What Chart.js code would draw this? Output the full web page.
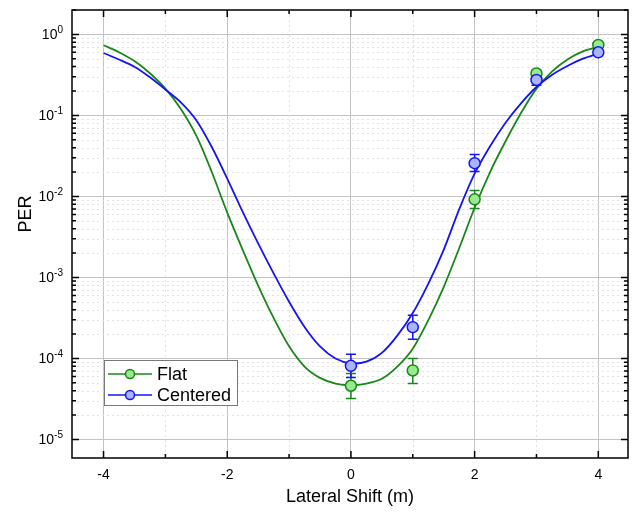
<!DOCTYPE html>
<html>
<head>
<meta charset="utf-8">
<script src="https://cdn.jsdelivr.net/npm/chart.js@4/dist/chart.umd.min.js"></script>
<style>
  html, body { margin: 0; padding: 0; background: #fff; }
  #wrap { width: 635px; height: 515px; }
</style>
</head>
<body>
<div id="wrap"><canvas id="per"></canvas></div>
<script>
// ── Data ─────────────────────────────────────────────────────────

// fitted curves, read every 0.25 m along the lateral shift
const fitX = [-4, -3.75, -3.5, -3.25, -3, -2.75, -2.5, -2.25, -2, -1.75, -1.5, -1.25, -1, -0.75, -0.5, -0.25,
              0, 0.25, 0.5, 0.75, 1, 1.25, 1.5, 1.75, 2, 2.25, 2.5, 2.75, 3, 3.25, 3.5, 3.75, 4];
const flatFit = [0.735, 0.603, 0.468, 0.331, 0.214, 0.120, 0.0562, 0.0200, 6.31e-3, 2.19e-3, 7.94e-4, 3.16e-4, 1.41e-4, 7.94e-5, 5.75e-5, 4.90e-5,
                 4.68e-5, 4.90e-5, 5.62e-5, 7.94e-5, 1.32e-4, 2.95e-4, 7.59e-4, 2.29e-3, 7.24e-3, 0.0200, 0.0479, 0.107, 0.214, 0.347, 0.490, 0.617, 0.700];
const centeredFit = [0.589, 0.490, 0.398, 0.295, 0.209, 0.145, 0.0871, 0.0407, 0.0166, 6.46e-3, 2.63e-3, 1.12e-3, 5.01e-4, 2.45e-4, 1.41e-4, 1.0e-4,
                     8.71e-5, 9.12e-5, 1.17e-4, 1.91e-4, 3.63e-4, 8.32e-4, 2.19e-3, 6.92e-3, 0.0191, 0.0417, 0.0813, 0.141, 0.224, 0.316, 0.407, 0.501, 0.582];

// measured points with error bars
const measX = [0, 1, 2, 3, 4];
const flatMeas = [4.6e-5, 7.1e-5, 9.2e-3, 0.33, 0.74];
const flatLow = [3.2e-5, 4.9e-5, 7.1e-3, 0.30, 0.70];
const flatHigh = [6.5e-5, 1.0e-4, 0.0118, 0.36, 0.79];
const centeredMeas = [8.1e-5, 2.43e-4, 0.0257, 0.274, 0.60];
const centeredLow = [5.8e-5, 1.73e-4, 0.0203, 0.235, 0.57];
const centeredHigh = [1.13e-4, 3.4e-4, 0.033, 0.31, 0.63];

// axes
const xTicks = [-4, -2, 0, 2, 4];
const xMinorTicks = [-3, -1, 1, 3];
const yTicks = [1e-5, 1e-4, 1e-3, 1e-2, 1e-1, 1];

const seriesNames = ['Flat', 'Centered'];

// ── Styling ──────────────────────────────────────────────────────

const FONT = '"Liberation Sans", Arial, sans-serif';
const GREEN = 'rgb(25, 135, 25)';
const GREEN_FILL = 'rgb(150, 235, 140)';
const BLUE = 'rgb(20, 20, 245)';
const BLUE_FILL = 'rgb(170, 180, 255)';

const toXY = (xs, ys) => xs.map((x, i) => ({ x, y: ys[i] }));

// ── Plugins: minor grid, error bars, frame + inward ticks, legend ─

const minorGridPlugin = {
    id: 'minorGrid',
    beforeDatasetsDraw(chart) {
        const { ctx, chartArea: a, scales: { x, y } } = chart;
        ctx.save();
        ctx.strokeStyle = 'rgb(226, 226, 226)';
        ctx.lineWidth = 1;
        ctx.setLineDash([2, 3]);
        ctx.beginPath();
        for (const v of xMinorTicks) {
            const px = Math.round(x.getPixelForValue(v)) + 0.5;
            ctx.moveTo(px, a.top);
            ctx.lineTo(px, a.bottom);
        }
        for (const d of yTicks) {
            for (let m = 2; m <= 9; m++) {
                const v = d * m;
                if (v > y.max) continue;
                const py = Math.round(y.getPixelForValue(v)) + 0.5;
                ctx.moveTo(a.left, py);
                ctx.lineTo(a.right, py);
            }
        }
        ctx.stroke();
        ctx.restore();
    },
};

const errorBarPlugin = {
    id: 'errorBars',
    beforeDatasetsDraw(chart) {
        const { ctx, scales: { x, y } } = chart;
        const sets = [
            { lo: flatLow, hi: flatHigh, color: GREEN },
            { lo: centeredLow, hi: centeredHigh, color: BLUE },
        ];
        ctx.save();
        ctx.lineWidth = 1.5;
        for (const s of sets) {
            ctx.strokeStyle = s.color;
            ctx.beginPath();
            measX.forEach((mx, i) => {
                const px = x.getPixelForValue(mx);
                const y1 = y.getPixelForValue(s.lo[i]);
                const y2 = y.getPixelForValue(s.hi[i]);
                ctx.moveTo(px, y1); ctx.lineTo(px, y2);
                ctx.moveTo(px - 5, y1); ctx.lineTo(px + 5, y1);
                ctx.moveTo(px - 5, y2); ctx.lineTo(px + 5, y2);
            });
            ctx.stroke();
        }
        ctx.restore();
    },
};

const framePlugin = {
    id: 'frame',
    afterDatasetsDraw(chart) {
        const { ctx, chartArea: a, scales: { x, y } } = chart;
        ctx.save();
        ctx.strokeStyle = '#000';
        ctx.lineWidth = 1.5;
        ctx.beginPath();
        // x ticks, bottom and top, pointing in
        const xt = [...xTicks.map(v => [v, 7]), ...xMinorTicks.map(v => [v, 4])];
        for (const [v, len] of xt) {
            const px = x.getPixelForValue(v);
            ctx.moveTo(px, a.bottom); ctx.lineTo(px, a.bottom - len);
            ctx.moveTo(px, a.top); ctx.lineTo(px, a.top + len);
        }
        // y ticks, left and right
        for (const d of yTicks) {
            for (let m = 1; m <= 9; m++) {
                const v = d * m;
                if (v > y.max) continue;
                const len = m === 1 ? 7 : 4;
                const py = y.getPixelForValue(v);
                ctx.moveTo(a.left, py); ctx.lineTo(a.left + len, py);
                ctx.moveTo(a.right, py); ctx.lineTo(a.right - len, py);
            }
        }
        ctx.stroke();
        ctx.strokeRect(a.left, a.top, a.right - a.left, a.bottom - a.top);
        ctx.restore();

        // y axis title, drawn by hand so it can sit where the reference has it
        ctx.save();
        ctx.fillStyle = '#000';
        ctx.font = '18px ' + FONT;
        ctx.textAlign = 'center';
        ctx.textBaseline = 'middle';
        ctx.translate(26, 214);
        ctx.rotate(-Math.PI / 2);
        ctx.fillText('PER', 0, 0);
        ctx.restore();

        // y tick labels as 10 with a raised exponent
        ctx.save();
        ctx.fillStyle = '#000';
        ctx.textBaseline = 'alphabetic';
        ctx.textAlign = 'right';
        for (const v of yTicks) {
            const py = y.getPixelForValue(v);
            const exp = String(Math.round(Math.log10(v)));
            const right = a.left - 9;
            ctx.font = '10px ' + FONT;
            const ew = ctx.measureText(exp).width;
            ctx.fillText(exp, right, py - 1);
            ctx.font = '14px ' + FONT;
            ctx.fillText('10', right - ew, py + 5);
        }
        ctx.restore();
    },
};

const legendPlugin = {
    id: 'boxLegend',
    afterDraw(chart) {
        const ctx = chart.ctx;
        const box = { x: 104.5, y: 360.5, w: 133, h: 45 };
        const rows = [
            { label: seriesNames[0], line: GREEN, fill: GREEN_FILL, y: 374 },
            { label: seriesNames[1], line: BLUE, fill: BLUE_FILL, y: 395 },
        ];
        ctx.save();
        ctx.fillStyle = '#fff';
        ctx.fillRect(box.x, box.y, box.w, box.h);
        ctx.strokeStyle = 'rgb(120, 120, 120)';
        ctx.lineWidth = 1;
        ctx.strokeRect(box.x, box.y, box.w, box.h);
        for (const r of rows) {
            ctx.strokeStyle = r.line;
            ctx.lineWidth = 1.5;
            ctx.beginPath();
            ctx.moveTo(108, r.y); ctx.lineTo(152, r.y);
            ctx.stroke();
            ctx.beginPath();
            ctx.arc(130, r.y, 4.5, 0, Math.PI * 2);
            ctx.fillStyle = r.fill;
            ctx.fill();
            ctx.stroke();
            ctx.fillStyle = '#000';
            ctx.font = '18px ' + FONT;
            ctx.textBaseline = 'middle';
            ctx.fillText(r.label, 157, r.y + 1);
        }
        ctx.restore();
    },
};

// ── Chart ────────────────────────────────────────────────────────

new Chart(document.getElementById('per'), {
    type: 'scatter',
    plugins: [minorGridPlugin, errorBarPlugin, framePlugin, legendPlugin],
    data: {
        datasets: [
            {
                label: seriesNames[0] + ' fit',
                data: toXY(fitX, flatFit),
                showLine: true,
                borderColor: GREEN,
                borderWidth: 1.8,
                pointRadius: 0,
                tension: 0.3,
                order: 4,
            },
            {
                label: seriesNames[1] + ' fit',
                data: toXY(fitX, centeredFit),
                showLine: true,
                borderColor: BLUE,
                borderWidth: 1.8,
                pointRadius: 0,
                tension: 0.3,
                order: 3,
            },
            {
                label: seriesNames[0],
                data: toXY(measX, flatMeas),
                showLine: false,
                pointRadius: 5.5,
                pointBorderWidth: 1.5,
                pointBackgroundColor: GREEN_FILL,
                pointBorderColor: GREEN,
                order: 2,
            },
            {
                label: seriesNames[1],
                data: toXY(measX, centeredMeas),
                showLine: false,
                pointRadius: 5.5,
                pointBorderWidth: 1.5,
                pointBackgroundColor: BLUE_FILL,
                pointBorderColor: BLUE,
                order: 1,
            },
        ],
    },
    options: {
        responsive: true,
        maintainAspectRatio: false,
        animation: false,
        layout: { padding: { top: 10, right: 7, bottom: 3, left: 0 } },
        plugins: {
            legend: { display: false },
            tooltip: { enabled: false },
        },
        scales: {
            x: {
                type: 'linear',
                min: -4.51,
                max: 4.48,
                afterBuildTicks: (s) => { s.ticks = xTicks.map(v => ({ value: v })); },
                afterFit: (s) => { s.height = 54; },
                ticks: { color: '#000', padding: 9, font: { family: FONT, size: 14 } },
                grid: { color: 'rgb(195, 195, 195)', lineWidth: 1, drawTicks: false },
                border: { display: false },
                title: {
                    display: true,
                    text: 'Lateral Shift (m)',
                    color: '#000',
                    font: { family: FONT, size: 18 },
                    padding: { top: 4, bottom: 4 },
                },
            },
            y: {
                type: 'logarithmic',
                min: 5.9e-6,
                max: 2.0,
                afterBuildTicks: (s) => { s.ticks = yTicks.map(v => ({ value: v })); },
                afterFit: (s) => { s.width = 72; },
                // labels are drawn with raised exponents by the frame plugin
                ticks: { display: false },
                grid: { color: 'rgb(195, 195, 195)', lineWidth: 1, drawTicks: false },
                border: { display: false },
            },
        },
    },
});
</script>
</body>
</html>
